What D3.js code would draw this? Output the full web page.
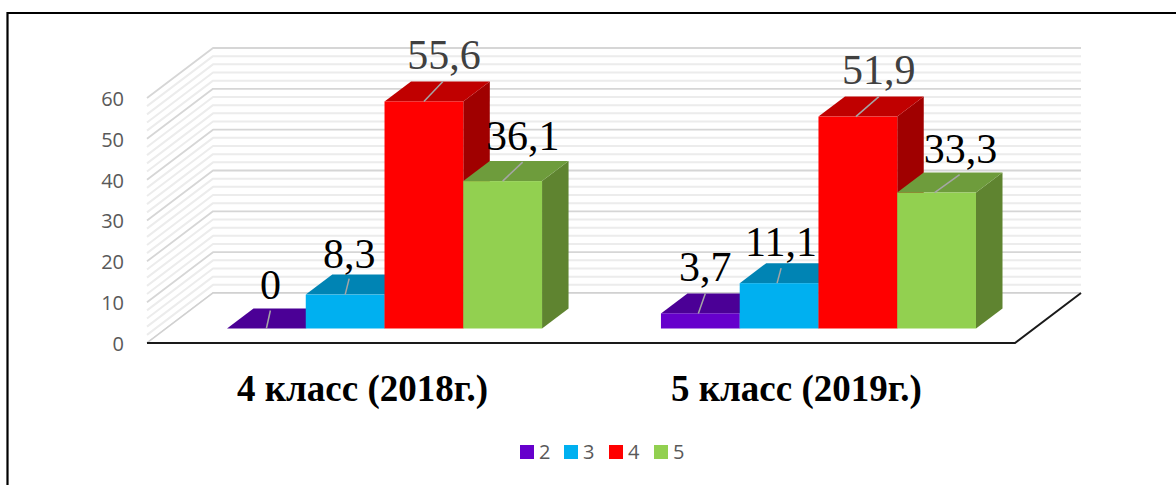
<!DOCTYPE html>
<html><head><meta charset="utf-8">
<style>html,body{margin:0;padding:0;background:#fff}svg{display:block}</style>
<script src="https://cdn.jsdelivr.net/npm/d3@7"></script></head><body>
<svg id="c" width="1176" height="485"></svg>
<script>
const categories = ["4 класс (2018г.)", "5 класс (2019г.)"];
const series = ["2", "3", "4", "5"];
const values2 = [0, 3.7];
const values3 = [8.3, 11.1];
const values4 = [55.6, 51.9];
const values5 = [36.1, 33.3];
const labels2 = ["0", "3,7"];
const labels3 = ["8,3", "11,1"];
const labels4 = ["55,6", "51,9"];
const labels5 = ["36,1", "33,3"];
const yTicks = [0, 10, 20, 30, 40, 50, 60];
const minorTicks = [2,4,6,8,12,14,16,18,22,24,26,28,32,34,36,38,42,44,46,48,52,54,56,58];

const frontColors = ["#6600cc", "#00b0f0", "#ff0000", "#92d050"];
const topColors = ["#4b0096", "#0084b4", "#c00000", "#6e9c3c"];
const sideColors = ["#3c0078", "#006a90", "#a00000", "#5f8430"];
const labelColors = [["#000","#000"],["#000","#000"],["#404040","#404040"],["#000","#000"]];

// layout
const depthX = 26.5, depthY = -20;
const wallDX = 66, wallDY = -50;
const floorFront = 343, leftX = 147, rightX = 1015;
const baseY = 328.5;
// label centre & leader tip relative to front-top centre of each bar
const leaderOffsets = [
  [[4,-18],[7,-20]], [[4,-16],[4,-15]], [[19,-20],[23,-20]], [[20,-19],[25,-18]]
];
const labelOffsets = [
  [[4,-30],[7,-32]], [[4,-27],[4,-27]], [[20,-32],[23,-33]], [[20,-31],[26,-30]]
];

const svg = d3.select("#c");
const y = d3.scaleLinear().domain([0, 60]).range([floorFront, floorFront - 245]);
const barY = d3.scaleLinear().domain([0, 60]).range([baseY, baseY - 245]);
const x0 = d3.scaleBand().domain(categories).range([227, 976]).paddingInner(0.274);
const x1 = d3.scaleBand().domain(series).range([0, x0.bandwidth()]);

// gridlines
function gridLine(v, color, w) {
  const pts = [[leftX, y(v)], [leftX + wallDX, y(v) + wallDY], [rightX + wallDX, y(v) + wallDY]];
  svg.append("path").attr("d", d3.line()(pts)).attr("fill", "none")
    .attr("stroke", color).attr("stroke-width", w).attr("stroke-linejoin","bevel");
}
minorTicks.forEach(v => gridLine(v, "#ececec", 2));
yTicks.forEach(v => gridLine(v, "#d6d6d6", 1.8));

// floor
svg.append("path")
  .attr("d", d3.line()([[leftX, floorFront],[leftX + wallDX, floorFront + wallDY],[rightX + wallDX, floorFront + wallDY],[rightX, floorFront]]) + "Z")
  .attr("fill", "#fff").attr("stroke","none");
svg.append("path").attr("d", d3.line()([[leftX, floorFront],[leftX + wallDX, floorFront + wallDY],[rightX + wallDX, floorFront + wallDY]]))
  .attr("fill","none").attr("stroke","#d0d0d0").attr("stroke-width",1.5);
svg.append("path").attr("d", d3.line()([[leftX, floorFront],[rightX, floorFront],[rightX + wallDX, floorFront + wallDY]]))
  .attr("fill","none").attr("stroke","#1a1a1a").attr("stroke-width",2);

// bars
const seriesValues = [values2, values3, values4, values5];
const seriesLabels = [labels2, labels3, labels4, labels5];
const line = d3.line();
categories.forEach((c, ci) => {
  series.forEach((s, si) => {
    const v = seriesValues[si][ci];
    const xL = x0(c) + x1(s), xR = xL + x1.bandwidth(), yT = barY(v), yB = barY(0);
    const g = svg.append("g").attr("class", "bar");
    g.append("path").attr("fill", sideColors[si])
      .attr("d", line([[xR,yB],[xR+depthX,yB+depthY],[xR+depthX,yT+depthY],[xR,yT]]) + "Z");
    g.append("path").attr("fill", topColors[si])
      .attr("d", line([[xL,yT],[xL+depthX,yT+depthY],[xR+depthX,yT+depthY],[xR,yT]]) + "Z");
    g.append("rect").attr("x", xL).attr("y", yT).attr("width", xR-xL).attr("height", yB-yT)
      .attr("fill", frontColors[si]);
  });
});
// labels & leaders above all bars
categories.forEach((c, ci) => {
  series.forEach((s, si) => {
    const v = seriesValues[si][ci];
    const cx = x0(c) + x1(s) + x1.bandwidth()/2 - (ci ? 2 : 0), yT = barY(v);
    const lo = leaderOffsets[si][ci], to = labelOffsets[si][ci];
    svg.append("line").attr("x1", cx).attr("y1", yT).attr("x2", cx+lo[0]).attr("y2", yT+lo[1])
      .attr("stroke", "#a6a6a6").attr("stroke-width", 1.5);
    svg.append("text").attr("x", cx+to[0]).attr("y", yT+to[1]).attr("text-anchor","middle")
      .attr("font-family","'Liberation Serif'").attr("font-size",42)
      .attr("fill", labelColors[si][ci]).text(seriesLabels[si][ci]);
  });
});

// y axis labels
const yAxis = d3.axisLeft(y).tickValues(yTicks).tickSize(0).tickPadding(0);
const ag = svg.append("g").attr("transform","translate(124,1)").call(yAxis);
ag.select(".domain").remove();
ag.selectAll("text").attr("font-family","'Open Sans'").attr("font-size",20).attr("fill","#595959");

// category labels
categories.forEach(c => {
  svg.append("text").attr("x", x0(c) + x0.bandwidth()/2 - 22).attr("y", 401).attr("text-anchor","middle")
    .attr("font-family","'Liberation Serif'").attr("font-weight","bold").attr("font-size",37)
    .attr("fill","#000").text(c);
});

// legend
const legendX = d3.scaleOrdinal().domain(series).range([520, 564, 609, 654]);
series.forEach((s, i) => {
  svg.append("rect").attr("x", legendX(s)).attr("y", 445).attr("width",14).attr("height",14).attr("fill",frontColors[i]);
  svg.append("text").attr("x", legendX(s)+19).attr("y", 459)
    .attr("font-family","'Open Sans'").attr("font-size",20).attr("fill","#595959").text(s);
});

// frame
svg.append("path").attr("d", d3.line()([[7.5,485],[7.5,13],[1176,13]])).attr("fill","none").attr("stroke","#000").attr("stroke-width",2.2);
</script></body></html>
